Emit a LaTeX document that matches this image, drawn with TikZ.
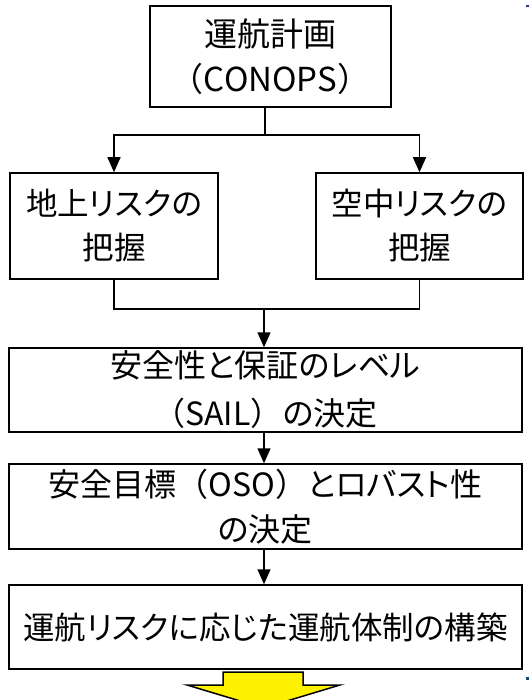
\documentclass[tikz,border=0pt]{standalone}
\usepackage{fontspec}
\setmainfont{Noto Sans CJK JP}[RawFeature=+palt]
\newfontfamily\fwfont{Noto Sans CJK JP}
\newcommand{\lpar}{{\fwfont （}}
\newcommand{\rpar}{{\fwfont ）}}
\usetikzlibrary{arrows.meta,calc}
\begin{document}
\begin{tikzpicture}[x=1pt,y=-1pt,
  box/.style={draw=black,line width=1.5pt,fill=white,inner sep=0pt,align=center,
    font=\fontsize{32}{44}\selectfont},
  link/.style={draw=black,line width=1.5pt},
  arr/.style={link,-{Triangle[length=15pt,width=13pt]}},
  bigarrow/.style={draw=black,line width=1.5pt,fill=yellow,line join=miter}]
\useasboundingbox (0,0) rectangle (529,700);
\clip (0,0) rectangle (529,700);
\fill[white] (0,0) rectangle (529,700);
\node[box,minimum width=241pt,minimum height=101pt,font=\fontsize{33}{44.5}\selectfont] (top) at (270.5,56.5) {運航計画\\\lpar CONOPS\rpar};
\node[box,minimum width=208pt,minimum height=106pt,font=\fontsize{31.5}{44}\selectfont] (L) at (114,226) {地上リスクの\\把握};
\node[box,minimum width=207pt,minimum height=106pt,font=\fontsize{31.5}{44}\selectfont] (R) at (419.5,226) {空中リスクの\\把握};
\node[box,minimum width=513pt,minimum height=84pt,font=\fontsize{32}{48}\selectfont] (S) at (265.5,390) {安全性と保証のレベル\\\lpar SAIL\rpar の決定};
\node[box,minimum width=513pt,minimum height=85pt,font=\fontsize{32}{45}\selectfont] (O) at (265.5,506.5) {安全目標\lpar OSO\rpar とロバスト性\\の決定};
\node[box,minimum width=513pt,minimum height=84pt,font=\fontsize{31.5}{44}\selectfont] (F) at (265.5,627) {運航リスクに応じた運航体制の構築};
\coordinate (split) at (265,135);
\coordinate (join) at (264,309);
\draw[link] (split |- top.south) -- (split);
\draw[arr] (split) -| (L.north);
\draw[arr] (split) -| (R.north);
\draw[link] (L.south) |- (join) -| (R.south);
\draw[arr] (join) -- (join |- S.north);
\draw[arr] (join |- S.south) -- (join |- O.north);
\draw[arr] (join |- O.south) -- (join |- F.north);
\draw[bigarrow] (223,672) -- (303,672) -- (303,685) -- (340,685) -- (263.5,708) -- (187,685) -- (223,685) -- cycle;
\fill[fill={rgb,255:red,31;green,63;blue,111}] (526,5) rectangle (528.5,7.5);
\fill[fill={rgb,255:red,31;green,63;blue,111}] (526,677) rectangle (528.5,679.5);
\end{tikzpicture}
\end{document}
